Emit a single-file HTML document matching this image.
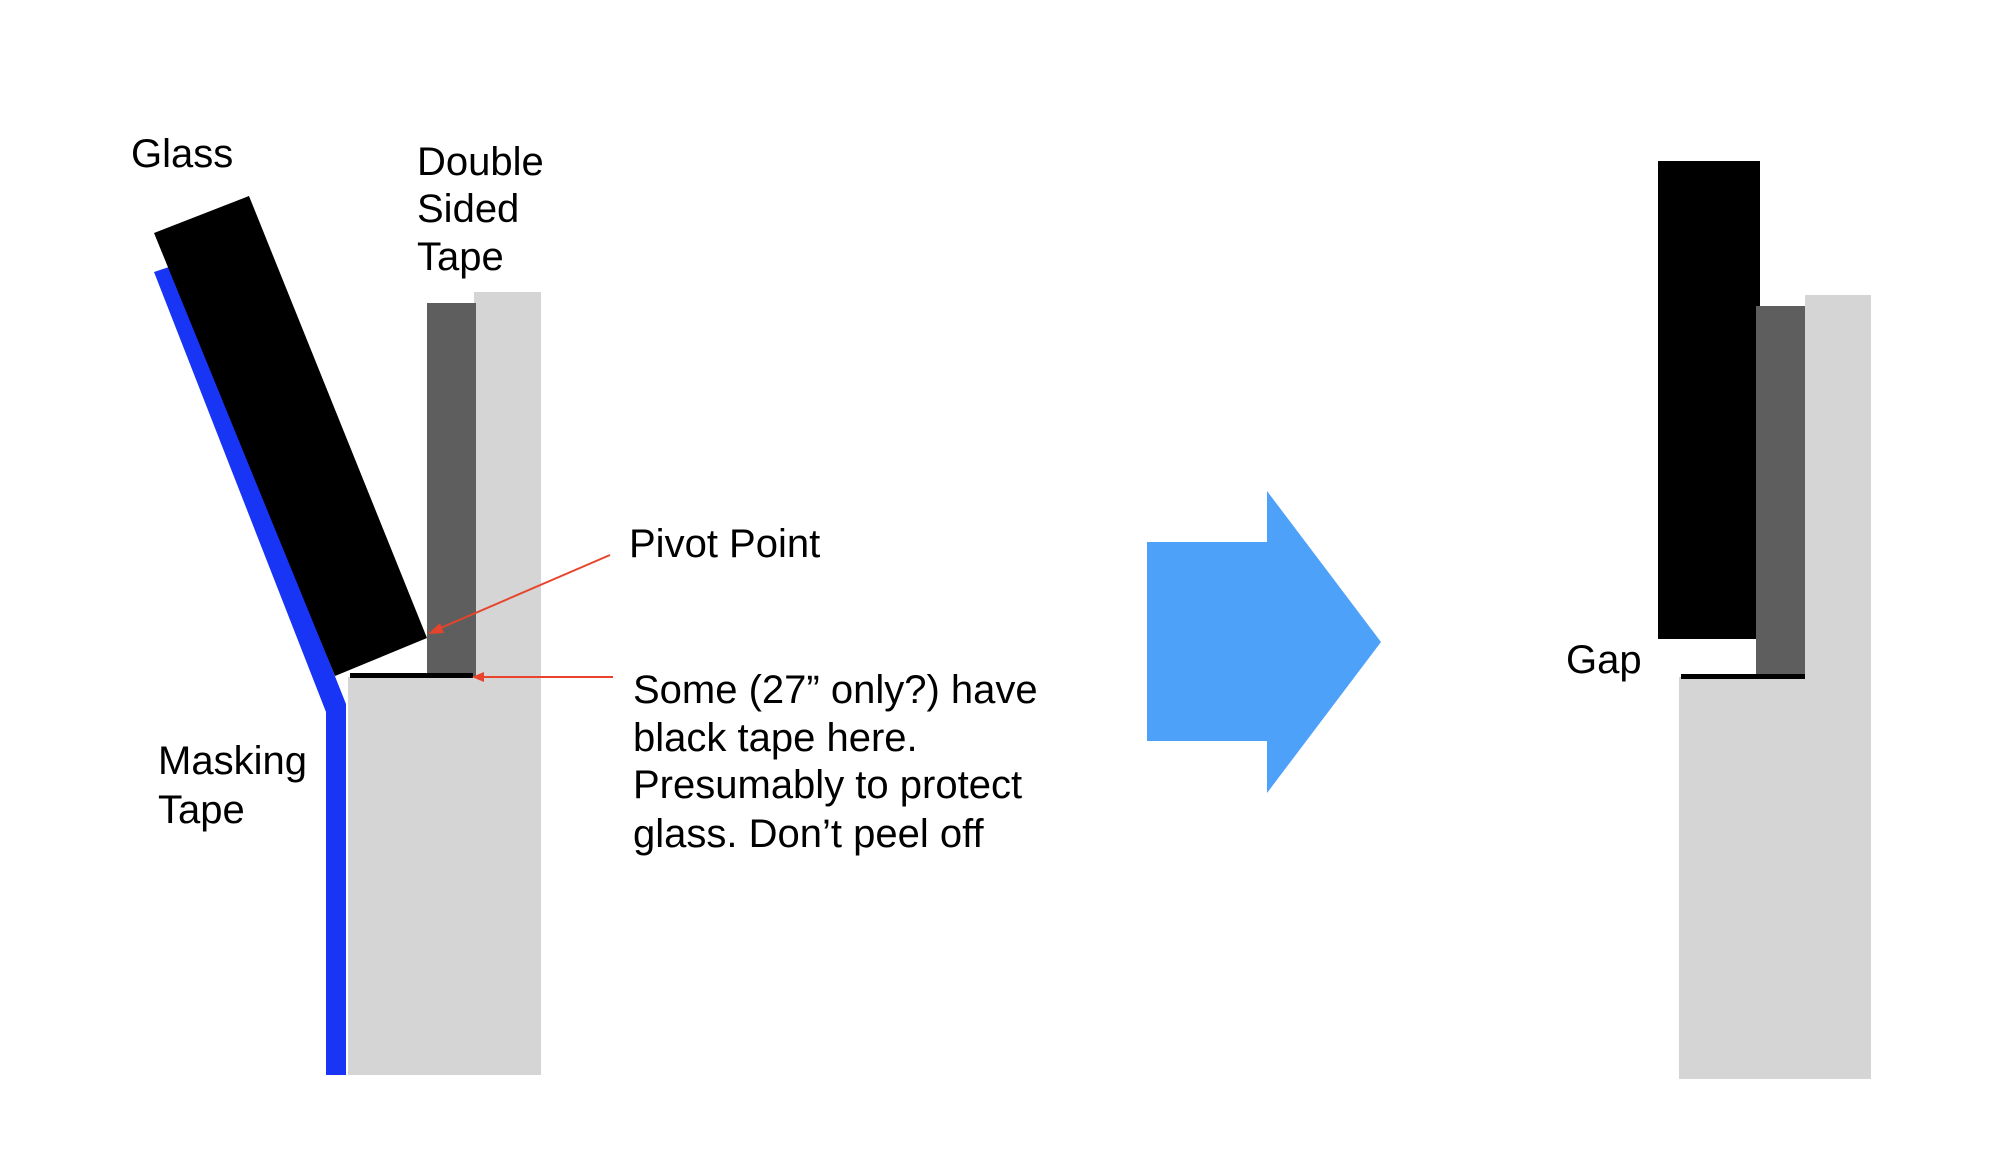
<!DOCTYPE html>
<html><head><meta charset="utf-8"><style>
html,body{margin:0;padding:0;background:#fff;}
svg{display:block;}
text{font-family:"Liberation Sans",Arial,sans-serif;font-size:40px;fill:#000;}
</style></head><body>
<svg width="2000" height="1169" viewBox="0 0 2000 1169" xmlns="http://www.w3.org/2000/svg">
<!-- Left figure -->
<rect x="474" y="292" width="67" height="783" fill="#d5d5d5"/>
<rect x="348" y="677" width="193" height="398" fill="#d5d5d5"/>
<rect x="427" y="303" width="49" height="374" fill="#5e5e5e"/>
<rect x="350" y="673" width="123" height="5" fill="#000"/>
<polygon points="154,272 172,266 346,704 346,1075 326,1075 326,712" fill="#1834f5"/>
<polygon points="154,233 249,196 427,638 335,676" fill="#000"/>
<!-- red arrows -->
<line x1="610" y1="555" x2="436" y2="630" stroke="#e8432b" stroke-width="2"/>
<polygon points="428,634 440,623 444,633" fill="#e8432b"/>
<line x1="613" y1="677" x2="482" y2="677" stroke="#e8432b" stroke-width="2"/>
<polygon points="472,677 484,672 484,682" fill="#e8432b"/>
<!-- labels -->
<text x="131" y="167">Glass</text>
<text x="417" y="175">Double</text>
<text x="417" y="222">Sided</text>
<text x="417" y="270">Tape</text>
<text x="629" y="557">Pivot Point</text>
<text x="633" y="703">Some (27” only?) have</text>
<text x="633" y="751">black tape here.</text>
<text x="633" y="798">Presumably to protect</text>
<text x="633" y="847">glass. Don’t peel off</text>
<text x="158" y="774">Masking</text>
<text x="158" y="823">Tape</text>
<!-- big arrow -->
<polygon points="1147,542 1267,542 1267,491 1381,642 1267,793 1267,741 1147,741" fill="#4da1f9"/>
<!-- Right figure -->
<rect x="1805" y="295" width="66" height="784" fill="#d5d5d5"/>
<rect x="1679" y="677" width="192" height="402" fill="#d5d5d5"/>
<rect x="1658" y="161" width="102" height="478" fill="#000"/>
<rect x="1756" y="306" width="49" height="371" fill="#5e5e5e"/>
<rect x="1681" y="674" width="124" height="5" fill="#000"/>
<text x="1566" y="673">Gap</text>
</svg>
</body></html>
